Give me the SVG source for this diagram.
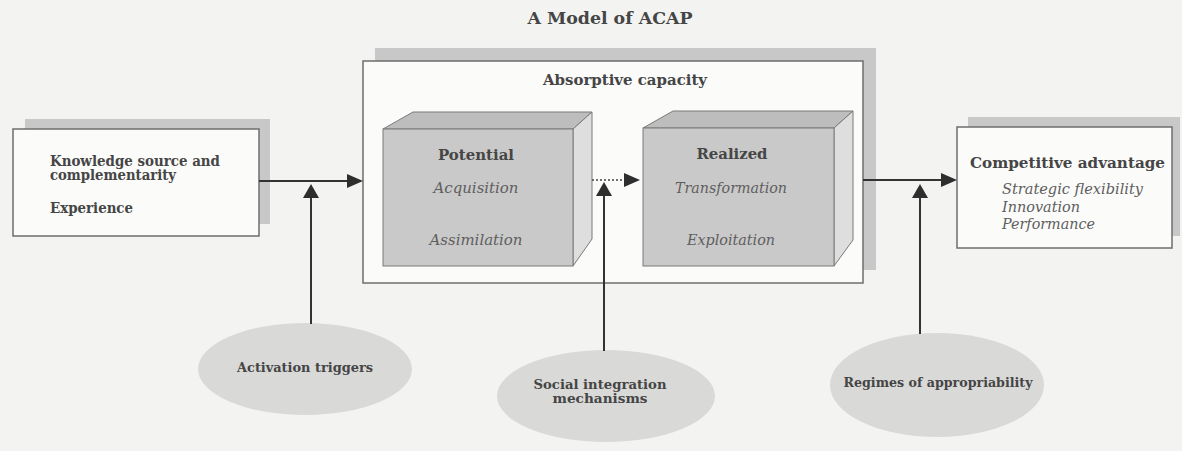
<svg xmlns="http://www.w3.org/2000/svg" width="1182" height="451" viewBox="0 0 1182 451">
  <defs>
    <style>
      .bg { fill: #f3f3f1; }
      .shadow { fill: #c8c8c8; }
      .box { fill: #fbfbfa; stroke: #6e6e6e; stroke-width: 1.5; }
      .front { fill: #c9c9c9; stroke: #7a7a7a; stroke-width: 1; }
      .top { fill: #bdbdbd; stroke: #7a7a7a; stroke-width: 1; }
      .side { fill: #dedede; stroke: #7a7a7a; stroke-width: 1; }
      .oval { fill: #d9d9d8; }
      .bold { font-family: "DejaVu Serif", "Liberation Serif", serif; font-weight: bold; fill: #454545; }
      .ital { font-family: "DejaVu Serif", "Liberation Serif", serif; font-style: italic; fill: #5e5e5e; }
      .line { stroke: #333; stroke-width: 2; fill: none; }
      .dots { stroke: #444; stroke-width: 1.5; stroke-dasharray: 2 2; fill: none; }
      .head { fill: #2e2e2e; }
    </style>
  </defs>

  <rect class="bg" x="0" y="0" width="1182" height="451"/>

  <text class="bold" x="610" y="24" font-size="16" text-anchor="middle" textLength="165" lengthAdjust="spacingAndGlyphs">A Model of ACAP</text>

  <!-- knowledge sources -->
  <g id="knowledge-source">
    <rect class="shadow" x="25" y="119" width="245" height="105"/>
    <rect class="box" x="13" y="129" width="246" height="107"/>
    <text class="bold" x="50" y="166" font-size="14" textLength="170" lengthAdjust="spacingAndGlyphs">Knowledge source and</text>
    <text class="bold" x="50" y="180" font-size="14" textLength="126" lengthAdjust="spacingAndGlyphs">complementarity</text>
    <text class="bold" x="50" y="213" font-size="14" textLength="83" lengthAdjust="spacingAndGlyphs">Experience</text>
  </g>

  <!-- absorptive capacity container with its two stages -->
  <g id="absorptive-capacity">
    <rect class="shadow" x="375" y="48" width="501" height="222"/>
    <rect class="box" x="363" y="61" width="500" height="222"/>
    <text class="bold" x="625" y="85" font-size="15" text-anchor="middle" textLength="164" lengthAdjust="spacingAndGlyphs">Absorptive capacity</text>
  </g>

  <g id="potential">
    <polygon class="top" points="383,129 573,129 592,112 413,112"/>
    <polygon class="side" points="573,129 592,112 592,239 573,266"/>
    <rect class="front" x="383" y="129" width="190" height="137"/>
    <text class="bold" x="476" y="160" font-size="15" text-anchor="middle" textLength="76" lengthAdjust="spacingAndGlyphs">Potential</text>
    <text class="ital" x="476" y="193" font-size="14" text-anchor="middle" textLength="85" lengthAdjust="spacingAndGlyphs">Acquisition</text>
    <text class="ital" x="476" y="245" font-size="14" text-anchor="middle" textLength="93" lengthAdjust="spacingAndGlyphs">Assimilation</text>
  </g>

  <g id="realized">
    <polygon class="top" points="643,128 834,128 853,111 673,111"/>
    <polygon class="side" points="834,128 853,111 853,240 834,266"/>
    <rect class="front" x="643" y="128" width="191" height="138"/>
    <text class="bold" x="732" y="159" font-size="15" text-anchor="middle" textLength="71" lengthAdjust="spacingAndGlyphs">Realized</text>
    <text class="ital" x="731" y="193" font-size="14" text-anchor="middle" textLength="112" lengthAdjust="spacingAndGlyphs">Transformation</text>
    <text class="ital" x="731" y="245" font-size="14" text-anchor="middle" textLength="88" lengthAdjust="spacingAndGlyphs">Exploitation</text>
  </g>

  <!-- outcomes -->
  <g id="competitive-advantage">
    <rect class="shadow" x="968" y="117" width="212" height="119"/>
    <rect class="box" x="957" y="127" width="215" height="121"/>
    <text class="bold" x="970" y="168" font-size="15" textLength="195" lengthAdjust="spacingAndGlyphs">Competitive advantage</text>
    <text class="ital" x="1002" y="194" font-size="14" textLength="141" lengthAdjust="spacingAndGlyphs">Strategic flexibility</text>
    <text class="ital" x="1002" y="212" font-size="14" textLength="78" lengthAdjust="spacingAndGlyphs">Innovation</text>
    <text class="ital" x="1002" y="229" font-size="14" textLength="93" lengthAdjust="spacingAndGlyphs">Performance</text>
  </g>

  <!-- moderators -->
  <g id="activation-triggers">
    <ellipse class="oval" cx="305" cy="369" rx="107" ry="46"/>
    <text class="bold" x="305" y="372" font-size="13" text-anchor="middle" textLength="136" lengthAdjust="spacingAndGlyphs">Activation triggers</text>
  </g>

  <g id="social-integration">
    <ellipse class="oval" cx="606" cy="396" rx="109" ry="46"/>
    <text class="bold" x="600" y="389" font-size="13" text-anchor="middle" textLength="133" lengthAdjust="spacingAndGlyphs">Social integration</text>
    <text class="bold" x="600" y="403" font-size="13" text-anchor="middle" textLength="95" lengthAdjust="spacingAndGlyphs">mechanisms</text>
  </g>

  <g id="regimes-of-appropriability">
    <ellipse class="oval" cx="937" cy="385" rx="107" ry="52"/>
    <text class="bold" x="938" y="387" font-size="13" text-anchor="middle" textLength="189" lengthAdjust="spacingAndGlyphs">Regimes of appropriability</text>
  </g>

  <!-- connectors -->
  <g id="connectors">
    <line class="line" x1="259" y1="181" x2="348" y2="181"/>
    <polygon class="head" points="363,181 347,174 347,188"/>
    <line class="line" x1="311" y1="324" x2="311" y2="196"/>
    <polygon class="head" points="311,184 303,198 319,198"/>

    <line class="dots" x1="592" y1="180" x2="625" y2="180"/>
    <polygon class="head" points="640,180 624,173 624,187"/>
    <line class="line" x1="604" y1="351" x2="604" y2="194"/>
    <polygon class="head" points="604,182 596,196 612,196"/>

    <line class="line" x1="863" y1="180" x2="942" y2="180"/>
    <polygon class="head" points="957,180 941,173 941,187"/>
    <line class="line" x1="920" y1="334" x2="920" y2="196"/>
    <polygon class="head" points="920,184 912,198 928,198"/>
  </g>
</svg>
